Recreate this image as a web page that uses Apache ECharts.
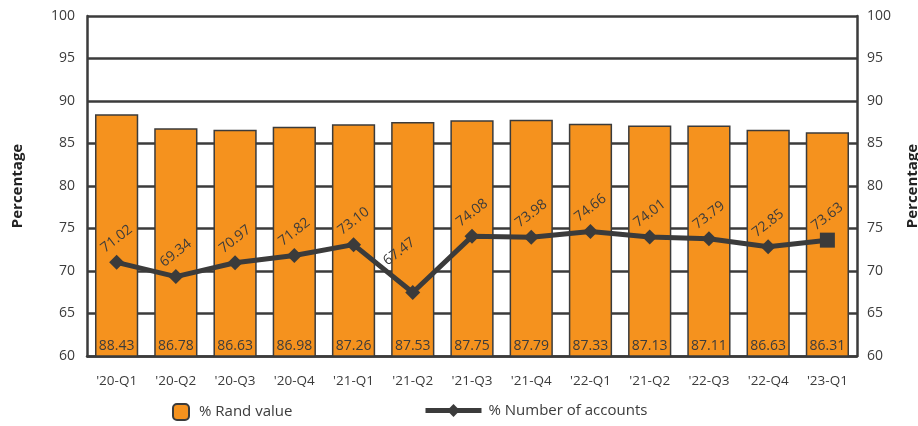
<!DOCTYPE html>
<html>
<head>
<meta charset="utf-8">
<script src="https://cdn.jsdelivr.net/npm/echarts@6/dist/echarts.min.js"></script>
<style>
html, body { margin: 0; padding: 0; background: #fff; }
#main { width: 918px; height: 426px; }
</style>
</head>
<body>
<div id="main"></div>
<script>
// quarters (the 10th label really reads '21-Q2 in the source)
var quarters = ["'20-Q1", "'20-Q2", "'20-Q3", "'20-Q4", "'21-Q1", "'21-Q2", "'21-Q3", "'21-Q4", "'22-Q1", "'21-Q2", "'22-Q3", "'22-Q4", "'23-Q1"];
var randValue = [88.43, 86.78, 86.63, 86.98, 87.26, 87.53, 87.75, 87.79, 87.33, 87.13, 87.11, 86.63, 86.31];
var numAccounts = [71.02, 69.34, 70.97, 71.82, 73.10, 67.47, 74.08, 73.98, 74.66, 74.01, 73.79, 72.85, 73.63];

var dark = '#3b3b3b';
var orange = '#F5921E';
var font = 'Open Sans';

// last point is a square in the original
var lineData = numAccounts.map(function (v, i) {
  if (i === numAccounts.length - 1) return { value: v, symbol: 'rect', symbolSize: 15 };
  return v;
});

var myChart = echarts.init(document.getElementById('main'));
var option = {
  animation: false,
  textStyle: { fontFamily: font },
  grid: { left: 87, right: 61, top: 16, bottom: 70, outerBoundsMode: 'none', containLabel: false },
  legend: [
    {
      data: ['% Rand value'],
      left: 167, top: 398,
      itemWidth: 16, itemHeight: 16,
      textStyle: { fontSize: 15, color: dark, fontFamily: font, padding: [0, 0, 0, 5] }
    },
    {
      data: ['% Number of accounts'],
      left: 418, top: 398,
      itemWidth: 56, itemHeight: 16,
      lineStyle: { width: 5 },
      textStyle: { fontSize: 15, color: dark, fontFamily: font, padding: [0, 0, 0, 2] }
    }
  ],
  xAxis: {
    type: 'category',
    data: quarters,
    axisLine: { lineStyle: { color: dark, width: 2.5 } },
    axisTick: { show: false },
    axisLabel: { color: dark, fontSize: 13.5, margin: 18, fontFamily: font }
  },
  yAxis: [
    {
      type: 'value', min: 60, max: 100, interval: 5,
      name: 'Percentage', nameLocation: 'middle', nameRotate: 90, nameGap: 62,
      nameTextStyle: { fontSize: 15, fontWeight: 'bold', color: '#222', fontFamily: font },
      axisLine: { show: true, lineStyle: { color: dark, width: 2.5 } },
      axisTick: { show: false },
      axisLabel: { color: dark, fontSize: 14, margin: 12, fontFamily: font },
      splitLine: { lineStyle: { color: dark, width: 2.5 } }
    },
    {
      type: 'value', min: 60, max: 100, interval: 5, position: 'right',
      name: 'Percentage', nameLocation: 'middle', nameRotate: 90, nameGap: 48,
      nameTextStyle: { fontSize: 15, fontWeight: 'bold', color: '#222', fontFamily: font },
      axisLine: { show: true, lineStyle: { color: dark, width: 2.5 } },
      axisTick: { show: false },
      axisLabel: { color: dark, fontSize: 14, margin: 10, fontFamily: font },
      splitLine: { show: false }
    }
  ],
  series: [
    {
      name: '% Rand value',
      type: 'bar',
      data: randValue,
      barCategoryGap: '27%',
      itemStyle: { color: orange, borderColor: dark, borderWidth: 1.5 },
      label: {
        show: true, position: 'insideBottom', distance: 4,
        color: dark, fontSize: 14, fontFamily: font,
        formatter: function (p) { return p.value.toFixed(2); }
      }
    },
    {
      name: '% Number of accounts',
      type: 'line',
      data: lineData,
      symbol: 'diamond',
      symbolSize: 15,
      lineStyle: { color: dark, width: 5 },
      itemStyle: { color: dark },
      label: {
        show: true, position: 'top', distance: 16, rotate: 38,
        align: 'center', verticalAlign: 'middle', offset: [-6, 0],
        color: dark, fontSize: 14, fontFamily: font,
        formatter: function (p) { return p.value.toFixed(2); }
      },
      // the label over the '21-Q2 dip sits higher in the original
      labelLayout: function (params) {
        if (params.dataIndex === 5) return { dy: -22 };
      },
      z: 3
    }
  ]
};
myChart.setOption(option);
</script>
</body>
</html>
